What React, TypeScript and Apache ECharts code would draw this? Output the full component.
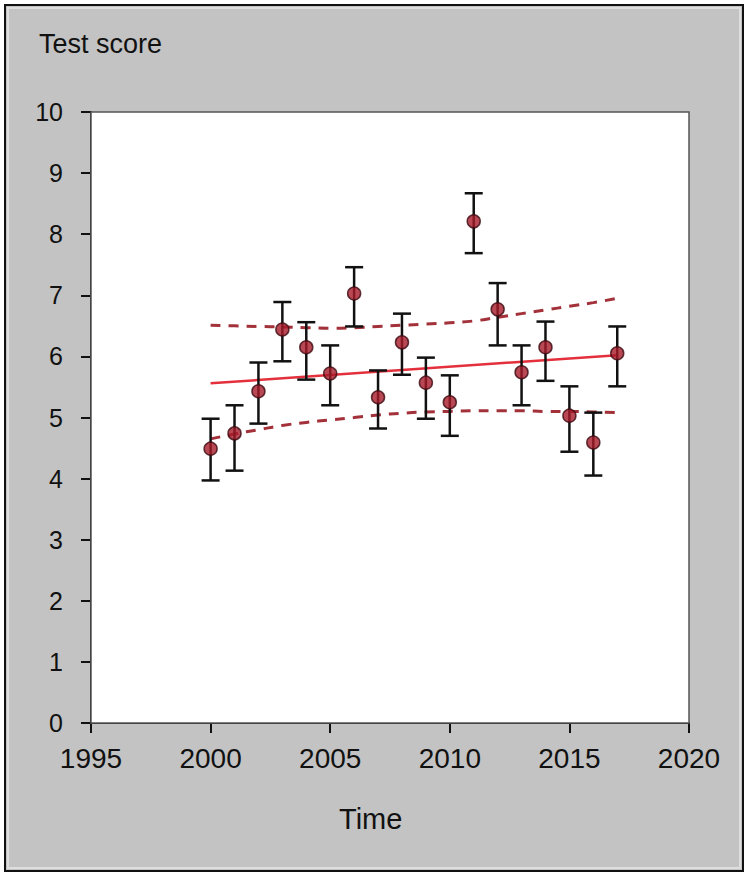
import React, { useEffect, useRef } from "react";
import * as echarts from "echarts";

const years = [2000, 2001, 2002, 2003, 2004, 2005, 2006, 2007, 2008, 2009, 2010, 2011, 2012, 2013, 2014, 2015, 2016, 2017];
const scores = [4.49, 4.74, 5.43, 6.44, 6.15, 5.72, 7.03, 5.33, 6.23, 5.57, 5.25, 8.21, 6.77, 5.74, 6.15, 5.03, 4.59, 6.05];
const errHigh = [4.98, 5.2, 5.9, 6.89, 6.56, 6.18, 7.46, 5.77, 6.7, 5.98, 5.69, 8.67, 7.2, 6.18, 6.57, 5.51, 5.08, 6.49];
const errLow = [3.97, 4.13, 4.9, 5.92, 5.62, 5.2, 6.49, 4.82, 5.7, 4.98, 4.7, 7.69, 6.18, 5.2, 5.6, 4.44, 4.05, 5.51];
const trendYears = [2000, 2017];
const trendValues = [5.56, 6.02];
const bandUpper = [6.51, 6.5, 6.49, 6.48, 6.47, 6.46, 6.47, 6.49, 6.51, 6.53, 6.55, 6.58, 6.64, 6.7, 6.76, 6.82, 6.88, 6.95];
const bandLower = [4.65, 4.73, 4.8, 4.87, 4.92, 4.96, 5.0, 5.04, 5.07, 5.09, 5.1, 5.11, 5.11, 5.11, 5.1, 5.1, 5.09, 5.08];

const yTitle = "Test score";
const xTitle = "Time";

const FONT = "'Liberation Sans', Arial, sans-serif";

export default function App() {
  const ref = useRef<HTMLDivElement>(null);
  useEffect(() => {
    if (!ref.current) return;
    const chart = echarts.init(ref.current, null, { renderer: "svg" });
    const option: any = {
      animation: false,
      backgroundColor: "#ffffff",
      grid: {
        left: 91,
        right: 61,
        top: 112,
        bottom: 155,
        show: true,
        backgroundColor: "#ffffff",
        borderColor: "#555555",
        borderWidth: 1.5,
        z: 1,
      },
      graphic: [
        {
          type: "rect",
          z: -10,
          silent: true,
          shape: { x: 5, y: 5, width: 738, height: 866 },
          style: { fill: "#c3c3c3", stroke: "#111111", lineWidth: 2 },
        },
        {
          type: "rect",
          z: -9,
          silent: true,
          shape: { x: 8, y: 8, width: 732, height: 860 },
          style: { fill: "none", stroke: "#dedede", lineWidth: 2 },
        },
        {
          type: "text",
          left: 39,
          top: 30,
          style: { text: yTitle, fontFamily: FONT, fontSize: 27, fill: "#111111" },
        },
        {
          type: "text",
          left: 339,
          top: 804,
          style: { text: xTitle, fontFamily: FONT, fontSize: 29, fill: "#111111" },
        },
      ],
      xAxis: {
        type: "value",
        min: 1995,
        max: 2020,
        interval: 5,
        splitLine: { show: false },
        axisLine: { show: true, onZero: false, lineStyle: { color: "#111111", width: 2 } },
        axisTick: { show: true, length: 10, lineStyle: { color: "#111111", width: 2 } },
        axisLabel: {
          fontFamily: FONT,
          fontSize: 28,
          color: "#111111",
          margin: 21,
          formatter: (v: number) => String(v),
        },
      },
      yAxis: {
        type: "value",
        min: 0,
        max: 10,
        interval: 1,
        splitLine: { show: false },
        axisLine: { show: true, onZero: false, lineStyle: { color: "#111111", width: 2 } },
        axisTick: { show: true, length: 10, lineStyle: { color: "#111111", width: 2 } },
        axisLabel: { fontFamily: FONT, fontSize: 25, color: "#111111", margin: 28 },
      },
      series: [
        {
          type: "line",
          name: "upper band",
          data: years.map((y, i) => [y, bandUpper[i]]),
          showSymbol: false,
          smooth: true,
          lineStyle: { color: "#a3313a", width: 3, type: [10, 8] },
          z: 2,
        },
        {
          type: "line",
          name: "lower band",
          data: years.map((y, i) => [y, bandLower[i]]),
          showSymbol: false,
          smooth: true,
          lineStyle: { color: "#a3313a", width: 3, type: [10, 8] },
          z: 2,
        },
        {
          type: "line",
          name: "trend",
          data: trendYears.map((y, i) => [y, trendValues[i]]),
          showSymbol: false,
          lineStyle: { color: "#e3303c", width: 2.5 },
          z: 3,
        },
        {
          type: "custom",
          name: "error",
          data: years.map((y, i) => [y, errLow[i], errHigh[i]]),
          renderItem: (params: any, api: any) => {
            const x = api.value(0);
            const lo = api.coord([x, api.value(1)]);
            const hi = api.coord([x, api.value(2)]);
            const w = 9;
            const style = { stroke: "#111111", lineWidth: 2.5 };
            return {
              type: "group",
              children: [
                { type: "line", shape: { x1: lo[0], y1: lo[1], x2: hi[0], y2: hi[1] }, style },
                { type: "line", shape: { x1: hi[0] - w, y1: hi[1], x2: hi[0] + w, y2: hi[1] }, style },
                { type: "line", shape: { x1: lo[0] - w, y1: lo[1], x2: lo[0] + w, y2: lo[1] }, style },
              ],
            };
          },
          z: 4,
        },
        {
          type: "scatter",
          name: "score",
          data: years.map((y, i) => [y, scores[i]]),
          symbol: "circle",
          symbolSize: 13,
          itemStyle: { color: "#a81a2a", borderColor: "#3c0a10", borderWidth: 1.5 },
          z: 5,
        },
      ],
    };
    chart.setOption(option);
    return () => chart.dispose();
  }, []);
  return (
    <div
      ref={ref}
      style={{ position: "fixed", left: 0, top: 0, width: 750, height: 878 }}
    />
  );
}
